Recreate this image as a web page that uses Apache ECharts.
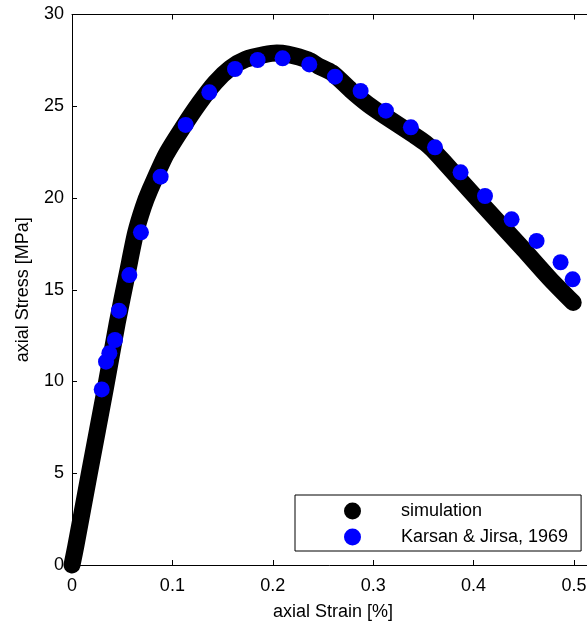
<!DOCTYPE html>
<html>
<head>
<meta charset="utf-8">
<script src="https://cdn.jsdelivr.net/npm/echarts@6/dist/echarts.min.js"></script>
<style>
  html, body { margin: 0; padding: 0; background: #fff; }
  #chart { width: 587px; height: 621px; }
</style>
</head>
<body>
<div id="chart"></div>
<script>
// Simulation curve (axial strain [%], axial stress [MPa])
const simStrain = [0, 0.0037, 0.0173, 0.0335, 0.0451, 0.0551, 0.0634, 0.071, 0.0777, 0.0935, 0.110, 0.1265, 0.1426, 0.1576, 0.1728, 0.1916, 0.204, 0.2145, 0.2353, 0.2453, 0.2589, 0.278, 0.2950, 0.3119, 0.340, 0.352, 0.359, 0.370, 0.4096, 0.4495, 0.476, 0.4993];
const simStress = [0, 1.0, 5.0, 9.7, 13.2, 15.9, 18.1, 19.5, 20.45, 22.35, 23.81, 25.15, 26.29, 27.07, 27.55, 27.81, 27.9, 27.84, 27.52, 27.2, 26.83, 25.87, 25.1, 24.46, 23.45, 23.0, 22.65, 22.0, 19.6, 17.22, 15.6, 14.3];

// Karsan & Jirsa, 1969 experimental points
const expStrain = [0.0296, 0.0339, 0.0372, 0.0428, 0.0468, 0.0571, 0.0687, 0.0883, 0.1132, 0.1368, 0.1624, 0.1849, 0.2098, 0.2364, 0.262, 0.2875, 0.3127, 0.3376, 0.3616, 0.3871, 0.4114, 0.4379, 0.4628, 0.4867, 0.4987];
const expStress = [9.57, 11.08, 11.54, 12.26, 13.86, 15.80, 18.13, 21.16, 23.98, 25.76, 27.03, 27.52, 27.61, 27.28, 26.61, 25.83, 24.76, 23.85, 22.76, 21.40, 20.11, 18.84, 17.66, 16.50, 15.57];

const seriesNames = ['simulation', 'Karsan & Jirsa, 1969'];
const xTicks = [0, 0.1, 0.2, 0.3, 0.4, 0.5];
const yTicks = [0, 5, 10, 15, 20, 25, 30];
const xName = 'axial Strain [%]';
const yName = 'axial Stress [MPa]';

const FONT = 'Liberation Sans, Arial, Helvetica, sans-serif';
const FS = 18;

const simData = simStrain.map((x, i) => [x, simStress[i]]);
const expData = expStrain.map((x, i) => [x, expStress[i]]);

function fmtX(v) {
  for (const t of xTicks) { if (Math.abs(v - t) < 1e-9) return String(t); }
  return '';
}

const chart = echarts.init(document.getElementById('chart'), null, { renderer: 'canvas' });
chart.setOption({
  animation: false,
  backgroundColor: '#ffffff',
  textStyle: { fontFamily: FONT },
  grid: { left: 72, top: 14.5, width: 522, height: 550.5, containLabel: false, outerBoundsMode: 'none' },
  legend: {
    orient: 'vertical',
    left: 295, top: 495,
    padding: [7, 13, 5, 49],
    backgroundColor: '#ffffff',
    borderColor: '#000000',
    borderWidth: 1,
    itemWidth: 17,
    itemHeight: 17,
    itemGap: 8,
    textStyle: { fontFamily: FONT, fontSize: FS, color: '#000', padding: [0, 0, 0, 35] },
    data: [
      { name: seriesNames[0], icon: 'circle' },
      { name: seriesNames[1], icon: 'circle', itemStyle: { color: '#0000ff' } }
    ]
  },
  xAxis: [
    {
      type: 'value', position: 'bottom', min: 0, max: 0.52, interval: 0.1,
      name: xName, nameLocation: 'middle', nameGap: 38,
      nameTextStyle: { fontFamily: FONT, fontSize: FS, color: '#000' },
      axisLine: { show: true, onZero: false, lineStyle: { color: '#000', width: 1 } },
      axisTick: { show: true, inside: true, length: 5, lineStyle: { color: '#000' } },
      axisLabel: { margin: 12, fontFamily: FONT, fontSize: FS, color: '#000', formatter: fmtX, showMaxLabel: false },
      splitLine: { show: false }
    },
    {
      type: 'value', position: 'top', min: 0, max: 0.52, interval: 0.1,
      axisLine: { show: true, onZero: false, lineStyle: { color: '#000', width: 1 } },
      axisTick: { show: true, inside: true, length: 5, lineStyle: { color: '#000' } },
      axisLabel: { show: false },
      splitLine: { show: false }
    }
  ],
  yAxis: [
    {
      type: 'value', position: 'left', min: 0, max: 30, interval: 5,
      name: yName, nameLocation: 'middle', nameGap: 40, nameRotate: 90,
      nameTextStyle: { fontFamily: FONT, fontSize: FS, color: '#000' },
      axisLine: { show: true, onZero: false, lineStyle: { color: '#000', width: 1 } },
      axisTick: { show: true, inside: true, length: 5, lineStyle: { color: '#000' } },
      axisLabel: { margin: 8, fontFamily: FONT, fontSize: FS, color: '#000' },
      splitLine: { show: false }
    }
  ],
  series: [
    {
      name: seriesNames[0],
      type: 'line',
      xAxisIndex: 0, yAxisIndex: 0,
      data: simData,
      showSymbol: false,
      symbol: 'circle',
      clip: false,
      smooth: 0.25,
      itemStyle: { color: '#000000' },
      lineStyle: { color: '#000000', width: 17, cap: 'round', join: 'round' },
      z: 2
    },
    {
      name: seriesNames[1],
      type: 'scatter',
      xAxisIndex: 0, yAxisIndex: 0,
      data: expData,
      symbol: 'circle',
      symbolSize: 16,
      clip: false,
      itemStyle: { color: '#0000ff', opacity: 1 },
      z: 3
    }
  ]
});
</script>
</body>
</html>
